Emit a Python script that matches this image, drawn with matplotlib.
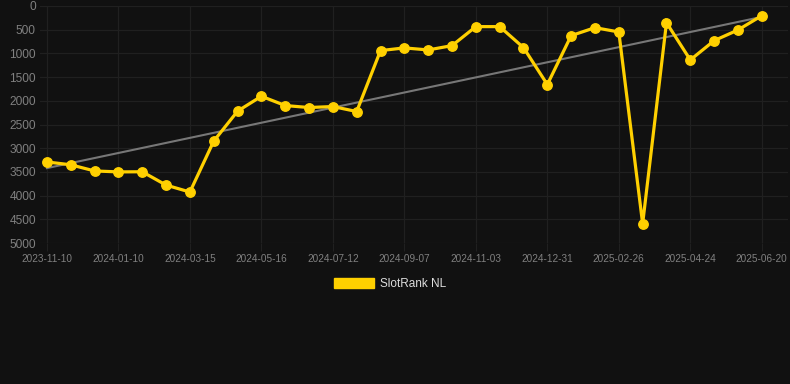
import matplotlib
matplotlib.use("Agg")
import matplotlib.pyplot as plt
from matplotlib.patches import Patch
import numpy as np

plt.rcParams['font.family'] = ['Liberation Sans', 'DejaVu Sans']

tick_labels = ["2023-11-10", "2024-01-10", "2024-03-15", "2024-05-16", "2024-07-12",
               "2024-09-07", "2024-11-03", "2024-12-31", "2025-02-26", "2025-04-24",
               "2025-06-20"]
rank_values = [3290, 3350, 3480, 3500, 3497, 3778, 3925, 2851, 2219, 1904,
               2100, 2142, 2121, 2226, 941, 884, 927, 836, 435, 435,
               878, 1657, 625, 457, 548, 4593, 352, 1138, 731, 506, 204]
trend_ends = [3420, 230]
series_name = "SlotRank NL"

bg = "#111111"
grid_c = "#202020"
yellow = "#FFD000"

fig = plt.figure(figsize=(7.9, 3.84), dpi=100, facecolor=bg)
ax = fig.add_axes([40/790, 1-243/384, 748/790, 237/384])
ax.set_facecolor(bg)

x = np.arange(len(rank_values))
ax.plot([x[0], x[-1]], trend_ends, color="#777777", lw=1.5, zorder=2)
ax.plot(x, rank_values, color=yellow, lw=2.3, marker='o', markersize=6.8,
        solid_joinstyle='miter', zorder=3)

ax.set_ylim(5000, 0)
ax.set_xlim(-0.29, 31.1)
ax.set_yticks(np.arange(0, 5001, 500))
ax.set_xticks(x[::3])
ax.set_xticklabels(tick_labels)
ax.grid(True, color=grid_c, lw=0.9)
ax.set_axisbelow(True)
for s in ax.spines.values():
    s.set_visible(False)
ax.tick_params(axis='y', length=0, pad=3, labelsize=8.6, labelcolor="#808080")
ax.tick_params(axis='x', length=6, color=grid_c, pad=2, labelsize=7.2, labelcolor="#808080")

fig.legend(handles=[Patch(facecolor=yellow, edgecolor=yellow)], labels=[series_name],
           loc='center', bbox_to_anchor=(390/790, 1-284/384), frameon=False,
           fontsize=8.5, labelcolor="#dddddd", handlelength=3.4, handleheight=0.95,
           handletextpad=0.5)

fig.savefig("out.png", dpi=100, facecolor=bg)
